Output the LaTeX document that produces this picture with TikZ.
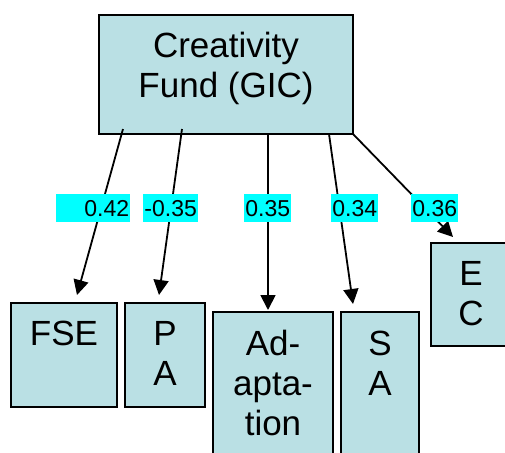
\documentclass[tikz,border=0pt]{standalone}
\usepackage{fontspec}
\setmainfont{Liberation Sans}
\usetikzlibrary{arrows.meta}
\definecolor{boxfill}{RGB}{186,224,228}
\definecolor{labfill}{RGB}{0,255,255}
\tikzset{
  box/.style={draw=black, line width=1.8pt, fill=boxfill, rectangle, inner sep=0pt, outer sep=0pt, anchor=north west},
  txt/.style={font=\fontsize{35}{40}\selectfont, align=center, inner sep=0pt, anchor=base},
  lab/.style={fill=labfill, font=\fontsize{23}{26}\selectfont, inner sep=0pt, anchor=north west, minimum height=28pt},
  link/.style={line width=1.8pt, -{Triangle[width=15pt,length=15pt]}}
}
\begin{document}
\begin{tikzpicture}[x=1pt,y=-1pt]
\useasboundingbox (0,0) rectangle (505,452);
\clip (0,0) rectangle (505,452);
% boxes
\node[box, minimum width=254pt, minimum height=119pt] (top) at (99,15) {};
\node[box, minimum width=106pt, minimum height=104pt] (fse) at (11,303) {};
\node[box, minimum width=80pt, minimum height=104pt] (pa) at (125,303) {};
\node[box, minimum width=120pt, minimum height=160pt] (ad) at (213,312) {};
\node[box, minimum width=78pt, minimum height=160pt] (sa) at (341,312) {};
\node[box, minimum width=80pt, minimum height=103pt] (ec) at (431,243) {};
% texts (base anchor = baseline of last line)
\node[txt] (topt) at (226,97) {Creativity\\Fund (GIC)};
\node[txt] (fset) at (64,345) {FSE};
\node[txt] (pat) at (165,385) {P\\A};
\node[txt] (adt) at (273,435) {Ad-\\apta-\\tion};
\node[txt] (sat) at (380,395) {S\\A};
\node[txt] (ect) at (471,325) {E\\C};
% connector ends
\coordinate (s1) at (123,129);
\coordinate (s2) at (182,129);
\coordinate (s3) at (268,134);
\coordinate (s4) at (329,134);
\coordinate (s5) at (353,134);
\coordinate (e1) at (77,295);
\coordinate (e2) at (159,295);
\coordinate (e3) at (268,310);
\coordinate (e4) at (353,304);
\coordinate (e5) at (453,237);
\draw[link] (s1) -- (e1);
\draw[link] (s2) -- (e2);
\draw[link] (s3) -- (e3);
\draw[link] (s4) -- (e4);
\draw[link] (s5) -- (e5);
% labels
\node[lab, minimum width=74pt, align=right, text width=72pt] (l1) at (56,194) {0.42};
\node[lab, minimum width=55pt] (l2) at (143,194) {-0.35};
\node[lab, minimum width=47pt] (l3) at (244,194) {0.35};
\node[lab, minimum width=47pt] (l4) at (331,194) {0.34};
\node[lab, minimum width=47pt] (l5) at (411,194) {0.36};
\end{tikzpicture}
\end{document}
